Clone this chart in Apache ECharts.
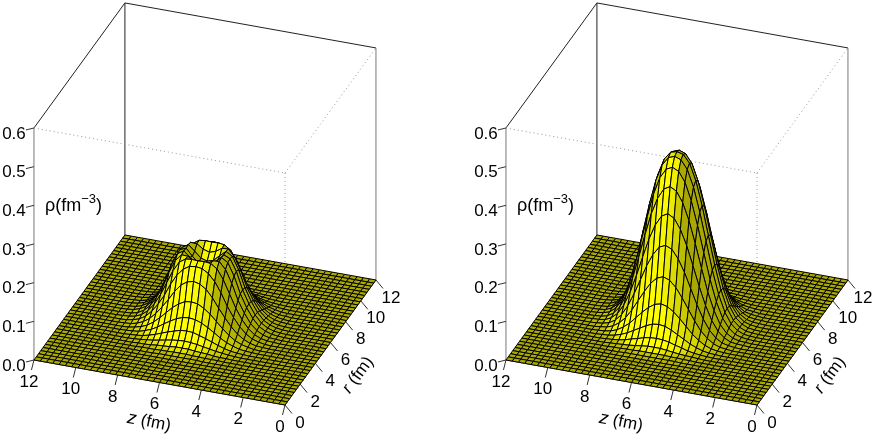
<!DOCTYPE html>
<html>
<head>
<meta charset="utf-8">
<script src="https://cdn.jsdelivr.net/npm/echarts@6/dist/echarts.min.js"></script>
<style>
    html, body { margin: 0; padding: 0; background: #fff; }
    #chart { width: 872px; height: 434px; }
</style>
</head>
<body>
<div id="chart"></div>
<script>
    var zTicks = [0, 2, 4, 6, 8, 10, 12];
    var rTicks = [0, 2, 4, 6, 8, 10, 12];
    var rhoTicks = ['0.0', '0.1', '0.2', '0.3', '0.4', '0.5', '0.6'];
    var nodeStep = 0.3;
    var centreNode = 20;

    // density read per mesh node, counted in nodes away from the bump centre (z=6, r=6)
    // nodes further out than a row or column lists are flat at 0
    var rhoLeft = [
        [.140,.144,.159,.177,.170,.140,.095,.062,.036,.018,.008,.003,.001],
        [.144,.149,.164,.178,.168,.136,.093,.060,.035,.017,.008,.003,.001],
        [.159,.164,.175,.176,.158,.125,.084,.054,.030,.015,.006,.002,.001],
        [.177,.178,.176,.165,.140,.106,.072,.045,.025,.012,.005,.002,.001],
        [.170,.168,.158,.140,.114,.082,.056,.035,.019,.009,.004,.001],
        [.140,.136,.125,.106,.082,.060,.040,.024,.013,.006,.002,.001],
        [.095,.093,.084,.072,.056,.040,.026,.015,.008,.004,.001,.001],
        [.062,.060,.054,.045,.035,.024,.015,.009,.004,.002,.001],
        [.036,.035,.030,.025,.019,.013,.008,.004,.002,.001],
        [.018,.017,.015,.012,.009,.006,.004,.002,.001],
        [.008,.008,.006,.005,.004,.002,.001,.001],
        [.003,.003,.002,.002,.001,.001],
        [.001,.001,.001,.001]
    ];
    var rhoRight = [
        [.435,.431,.411,.369,.307,.233,.160,.098,.053,.025,.010,.003,.001],
        [.431,.425,.403,.360,.298,.226,.154,.094,.051,.024,.010,.003,.001],
        [.411,.403,.378,.333,.272,.204,.138,.083,.044,.021,.008,.003,.001],
        [.369,.360,.333,.290,.233,.172,.114,.068,.035,.016,.006,.002,.001],
        [.307,.298,.272,.233,.184,.133,.087,.051,.026,.012,.004,.002,.001],
        [.233,.226,.204,.172,.133,.094,.060,.034,.017,.007,.003,.001],
        [.160,.154,.138,.114,.087,.060,.037,.021,.010,.004,.002,.001],
        [.098,.094,.083,.068,.051,.034,.021,.011,.005,.002,.001],
        [.053,.051,.044,.035,.026,.017,.010,.005,.002,.001],
        [.025,.024,.021,.016,.012,.007,.004,.002,.001],
        [.010,.010,.008,.006,.004,.003,.002,.001],
        [.003,.003,.003,.002,.002,.001],
        [.001,.001,.001,.001,.001]
    ];

    var fontName = '"Liberation Sans", Arial, sans-serif';
    var light = [0.2, -0.7, 0.55];

    // oblique view of the box, in the units of the hidden panel axes
    function project(z, r, rho) {
        return [285 - 20.92 * z + 7.58 * r, 405 - 3.75 * z - 10.42 * r - 386.7 * rho];
    }

    function rhoAt(table, i, j) {
        var row = table[Math.abs(i - centreNode)];
        return (row && row[Math.abs(j - centreNode)]) || 0;
    }

    function cellColor(table, i, j) {
        var a = rhoAt(table, i, j), b = rhoAt(table, i + 1, j), c = rhoAt(table, i + 1, j + 1), d = rhoAt(table, i, j + 1);
        var dz = (b + c - a - d) / 2 / nodeStep * 12 / 0.6;
        var dr = (c + d - a - b) / 2 / nodeStep * 12 / 0.6;
        var len = Math.sqrt(dz * dz + dr * dr + 1);
        var shade = 1.15 * (-dz * light[0] - dr * light[1] + light[2]) / len + 0.03;
        var v = Math.round(255 * Math.max(0.66, Math.min(1, shade)));
        return 'rgb(' + v + ',' + v + ',0)';
    }

    function surfaceSeries(table, panel) {
        var cells = [];
        for (var i = 39; i >= 0; i--) {
            for (var j = 39; j >= 0; j--) {
                cells.push([i, j]);
            }
        }
        return {
            type: 'custom',
            coordinateSystem: 'cartesian2d',
            xAxisIndex: panel,
            yAxisIndex: panel,
            silent: true,
            animation: false,
            progressive: 0,
            clip: false,
            z: 3,
            data: cells,
            renderItem: function (params, api) {
                var i = api.value(0), j = api.value(1);
                var corners = [[i, j], [i + 1, j], [i + 1, j + 1], [i, j + 1]].map(function (n) {
                    var p = project(n[0] * nodeStep, n[1] * nodeStep, rhoAt(table, n[0], n[1]));
                    return api.coord(p);
                });
                return {
                    type: 'polygon',
                    shape: { points: corners },
                    style: { fill: cellColor(table, i, j), stroke: '#000', lineWidth: 1 }
                };
            }
        };
    }

    function frameSeries(panel) {
        return {
            type: 'custom',
            coordinateSystem: 'cartesian2d',
            xAxisIndex: panel,
            yAxisIndex: panel,
            silent: true,
            animation: false,
            clip: false,
            z: 2,
            data: [[0, 0]],
            renderItem: function (params, api) {
                var kids = [];
                function seg(a, b, color, dash, width) {
                    var p = api.coord(a), q = api.coord(b);
                    kids.push({
                        type: 'line',
                        shape: { x1: p[0], y1: p[1], x2: q[0], y2: q[1] },
                        style: { stroke: color, lineWidth: width || 1, lineDash: dash || null }
                    });
                }
                function label(text, at, dx, dy) {
                    var p = api.coord(at);
                    kids.push({
                        type: 'text',
                        x: p[0] + dx,
                        y: p[1] + dy,
                        style: { text: text, font: '17px ' + fontName, fill: '#000', align: 'center', verticalAlign: 'middle' }
                    });
                }
                var top = 0.6;
                seg(project(12, 0, 0), project(12, 0, top), '#777');
                seg(project(12, 12, 0), project(12, 12, top), '#222');
                seg(project(0, 12, 0), project(0, 12, top), '#777');
                seg(project(12, 0, top), project(12, 12, top), '#222');
                seg(project(12, 12, top), project(0, 12, top), '#222');
                seg(project(12, 0, top), project(0, 0, top), '#999', [1, 3]);
                seg(project(0, 0, top), project(0, 12, top), '#999', [1, 3]);
                seg(project(0, 0, top), project(0, 0, 0), '#999', [1, 3]);
                seg(project(12, 0, 0), project(0, 0, 0), '#555');
                seg(project(0, 0, 0), project(0, 12, 0), '#555');

                rhoTicks.forEach(function (t) {
                    var a = project(12, 0, +t);
                    seg(a, [a[0] - 8, a[1] + 2], '#333');
                    label(t, a, -20, 6);
                });
                zTicks.forEach(function (t) {
                    var a = project(t, 0, 0);
                    seg(a, [a[0] - 2.5, a[1] + 10], '#333');
                    label(String(t), a, -5, 22);
                });
                rTicks.forEach(function (t) {
                    var a = project(0, t, 0);
                    seg(a, [a[0] + 7, a[1] + 8.5], '#333');
                    label(String(t), a, 15, 18);
                });

                var zPos = api.coord([149, 422]);
                kids.push({
                    type: 'text',
                    x: zPos[0],
                    y: zPos[1],
                    rotation: -0.19,
                    style: {
                        text: '{i|z}{n| (fm)}',
                        align: 'center',
                        verticalAlign: 'middle',
                        rich: {
                            i: { font: 'italic 18px ' + fontName, fill: '#000' },
                            n: { font: '17px ' + fontName, fill: '#000' }
                        }
                    }
                });
                var rPos = api.coord([358, 375]);
                kids.push({
                    type: 'text',
                    x: rPos[0],
                    y: rPos[1],
                    rotation: 0.94,
                    style: {
                        text: '{i|r}{n| (fm)}',
                        align: 'center',
                        verticalAlign: 'middle',
                        rich: {
                            i: { font: 'italic 17px ' + fontName, fill: '#000' },
                            n: { font: '17px ' + fontName, fill: '#000' }
                        }
                    }
                });
                var rhoPos = api.coord([45, 206]);
                kids.push({
                    type: 'text',
                    x: rhoPos[0],
                    y: rhoPos[1],
                    style: {
                        text: '{a|ρ(fm}{s|−3}{a|)}',
                        align: 'left',
                        verticalAlign: 'middle',
                        rich: {
                            a: { font: '18px ' + fontName, fill: '#000', lineHeight: 26, verticalAlign: 'middle' },
                            s: { font: '13px ' + fontName, fill: '#000', lineHeight: 26, verticalAlign: 'top' }
                        }
                    }
                });
                return { type: 'group', children: kids };
            }
        };
    }

    function hiddenAxis(max, inverse, panel) {
        return { type: 'value', show: false, min: 0, max: max, inverse: inverse, gridIndex: panel };
    }

    var myChart = echarts.init(document.getElementById('chart'), null, { renderer: 'canvas' });
    myChart.setOption({
        animation: false,
        backgroundColor: '#fff',
        grid: [
            { left: 0, top: 0, width: 436, height: 434 },
            { left: 472, top: 0, width: 400, height: 434 }
        ],
        xAxis: [hiddenAxis(436, false, 0), hiddenAxis(400, false, 1)],
        yAxis: [hiddenAxis(434, true, 0), hiddenAxis(434, true, 1)],
        series: [
            frameSeries(0),
            surfaceSeries(rhoLeft, 0),
            frameSeries(1),
            surfaceSeries(rhoRight, 1)
        ]
    });
</script>
</body>
</html>
